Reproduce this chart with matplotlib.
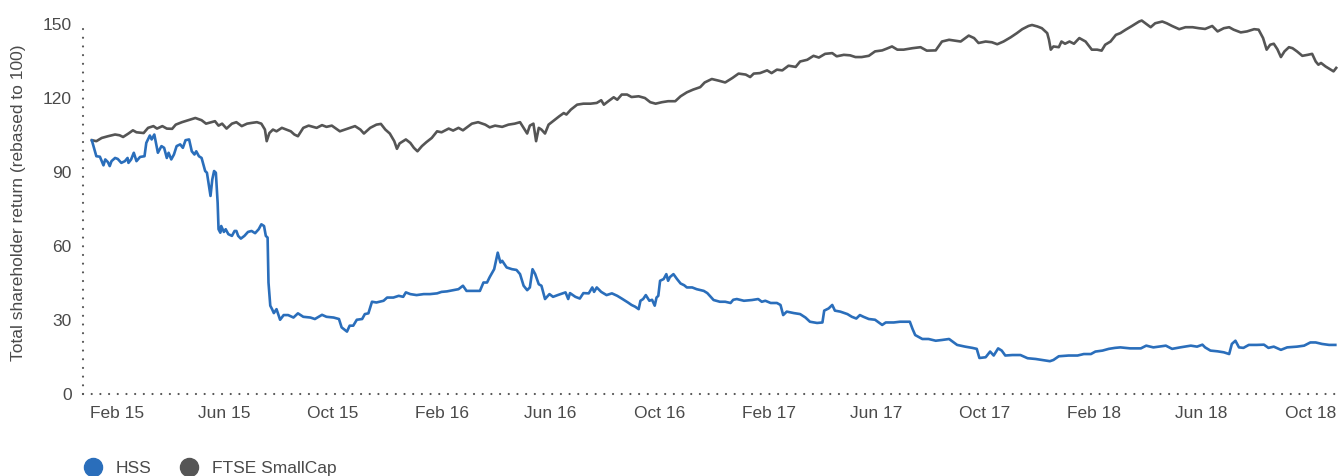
import pandas as pd
import matplotlib
matplotlib.use("Agg")
import matplotlib.pyplot as plt
import matplotlib.dates as mdates
from matplotlib.lines import Line2D

# days counted from 1 Feb 2015, values are TSR rebased to 100
base_date = pd.Timestamp("2015-02-01")

hss_days = [
    -28, -23, -19, -15, -13, -10, -8, -6, -2, 1,
    5, 9, 12, 13, 16, 19, 22, 26, 31, 33,
    37, 39, 42, 45, 46, 50, 53, 56, 58, 61,
    64, 67, 71, 74, 77, 81, 84, 87, 89, 92,
    95, 99, 101, 103, 105, 107, 109, 111, 113, 114,
    116, 117, 120, 122, 125, 129, 132, 134, 136, 139,
    143, 147, 151, 155, 159, 162, 165, 167, 169, 170,
    172, 174, 176, 179, 183, 187, 192, 198, 203, 209,
    217, 222, 230, 235, 243, 249, 252, 258, 261, 265,
    269, 275, 278, 282, 286, 291, 299, 303, 310, 316,
    321, 324, 329, 336, 344, 351, 359, 364, 370, 377,
    383, 388, 392, 400, 407, 411, 415, 418, 423, 427,
    430, 432, 437, 443, 448, 452, 456, 460, 463, 466,
    469, 473, 476, 480, 485, 489, 495, 503, 506, 508,
    514, 519, 523, 529, 533, 535, 538, 543, 549, 555,
    561, 566, 573, 577, 581, 585, 587, 590, 593, 597,
    600, 603, 605, 607, 609, 613, 616, 618, 620, 624,
    628, 632, 636, 639, 645, 650, 658, 662, 669, 676,
    682, 688, 691, 695, 703, 712, 719, 723, 727, 733,
    740, 744, 747, 751, 759, 766, 772, 777, 785, 791,
    793, 798, 802, 805, 811, 819, 824, 829, 833, 837,
    843, 850, 858, 862, 871, 878, 889, 892, 895, 903,
    910, 918, 925, 933, 942, 951, 959, 964, 967, 974,
    979, 983, 988, 992, 996, 1004, 1013, 1021, 1030, 1037,
    1046, 1050, 1056, 1067, 1077, 1084, 1092, 1097, 1105, 1112,
    1119, 1125, 1136, 1148, 1154, 1162, 1176, 1183, 1192, 1204,
    1211, 1217, 1220, 1226, 1234, 1241, 1247, 1250, 1254, 1258,
    1263, 1269, 1278, 1286, 1291, 1297, 1305, 1312, 1323, 1331,
    1338, 1344, 1351, 1359, 1366,
]
hss_tsr = [
    102.6, 96.2, 96.0, 92.5, 94.9, 93.8, 92.2, 94.2, 95.5, 95.1,
    93.5, 94.2, 95.5, 93.5, 94.9, 97.6, 94.2, 95.9, 96.2, 101.6,
    104.6, 103.0, 105.0, 99.6, 97.6, 100.3, 99.6, 95.5, 97.6, 94.9,
    96.9, 100.3, 101.0, 99.6, 102.7, 103.0, 98.2, 96.9, 98.2, 96.2,
    95.5, 90.2, 89.5, 84.8, 80.1, 86.8, 90.2, 89.5, 77.3, 66.6,
    65.2, 67.9, 65.5, 66.6, 64.6, 63.9, 65.9, 65.9, 63.9, 62.8,
    63.9, 65.5, 65.9, 65.0, 66.6, 68.6, 67.9, 63.9, 63.2, 45.0,
    35.6, 34.2, 32.6, 34.2, 29.9, 31.8, 31.8, 30.8, 32.5, 31.1,
    30.8, 30.2, 31.9, 31.1, 30.8, 30.2, 26.8, 25.1, 27.5, 27.5,
    29.9, 30.2, 32.2, 32.5, 37.2, 36.9, 37.6, 38.9, 38.9, 39.6,
    39.2, 41.0, 40.3, 39.9, 40.3, 40.3, 40.6, 41.2, 41.4, 41.9,
    42.3, 43.7, 41.6, 41.6, 41.6, 45.0, 45.0, 47.2, 50.4, 57.1,
    53.1, 53.8, 51.1, 50.4, 50.1, 48.4, 43.7, 41.9, 43.0, 50.4,
    48.4, 44.3, 43.7, 38.3, 40.3, 39.2, 40.0, 41.0, 38.3, 40.7,
    39.2, 38.5, 40.7, 40.6, 43.0, 41.2, 43.0, 41.2, 39.9, 40.6,
    39.6, 38.5, 36.9, 35.9, 35.2, 34.2, 37.6, 38.3, 39.9, 37.6,
    38.0, 35.6, 38.9, 39.6, 45.7, 46.4, 48.4, 45.7, 47.2, 48.4,
    46.4, 44.6, 43.9, 43.0, 43.0, 42.3, 41.6, 40.7, 37.9, 37.2,
    37.2, 36.7, 38.0, 38.3, 37.6, 37.9, 38.3, 37.2, 37.6, 36.7,
    36.7, 35.9, 31.8, 33.2, 32.6, 32.2, 30.8, 29.1, 28.6, 28.8,
    33.6, 34.5, 35.9, 33.6, 33.2, 32.2, 31.1, 30.4, 31.8, 31.1,
    30.2, 29.9, 27.8, 28.8, 28.8, 29.1, 29.1, 26.2, 23.7, 22.1,
    22.1, 21.4, 21.7, 22.1, 19.7, 19.0, 18.5, 18.1, 14.4, 14.7,
    17.0, 15.4, 18.3, 17.4, 15.4, 15.6, 15.6, 14.3, 14.0, 13.6,
    13.1, 13.6, 15.1, 15.4, 15.4, 16.0, 16.0, 17.0, 17.4, 18.1,
    18.5, 18.7, 18.3, 18.3, 19.4, 18.7, 19.4, 18.1, 18.7, 19.4,
    19.0, 19.8, 18.7, 17.4, 17.1, 16.7, 16.0, 20.1, 21.4, 18.7,
    18.5, 19.7, 19.7, 19.8, 18.5, 19.0, 17.7, 18.7, 19.0, 19.4,
    20.7, 20.7, 20.1, 19.7, 19.7,
]

ftse_days = [
    -28, -23, -17, -10, -2, 3, 7, 13, 18, 22,
    30, 35, 41, 45, 51, 56, 62, 66, 73, 80,
    88, 95, 100, 106, 110, 114, 118, 123, 129, 134,
    140, 146, 151, 157, 162, 166, 168, 171, 175, 179,
    185, 190, 195, 199, 203, 209, 215, 224, 230, 235,
    241, 250, 258, 267, 273, 277, 284, 291, 296, 301,
    306, 311, 314, 317, 324, 329, 333, 337, 342, 347,
    353, 359, 364, 372, 377, 383, 388, 398, 405, 413,
    418, 424, 432, 439, 446, 452, 456, 460, 463, 467,
    470, 473, 476, 480, 484, 489, 496, 501, 504, 509,
    516, 523, 531, 538, 543, 546, 551, 557, 561, 566,
    572, 577, 585, 592, 598, 604, 611, 618, 626, 632,
    639, 646, 654, 659, 667, 675, 682, 690, 697, 705,
    710, 714, 721, 729, 734, 740, 746, 753, 761, 766,
    774, 781, 787, 794, 802, 807, 815, 822, 828, 835,
    843, 850, 858, 863, 869, 875, 882, 892, 901, 908,
    918, 925, 933, 940, 946, 955, 961, 966, 974, 981,
    987, 994, 1002, 1009, 1015, 1022, 1026, 1032, 1037, 1043,
    1045, 1047, 1050, 1056, 1059, 1063, 1068, 1073, 1079, 1086,
    1093, 1099, 1104, 1108, 1114, 1120, 1125, 1131, 1138, 1146,
    1149, 1153, 1159, 1164, 1172, 1177, 1183, 1191, 1198, 1206,
    1213, 1220, 1228, 1234, 1241, 1247, 1252, 1260, 1267, 1275,
    1280, 1285, 1289, 1293, 1297, 1301, 1305, 1309, 1314, 1318,
    1323, 1329, 1335, 1340, 1344, 1347, 1350, 1355, 1361, 1364,
    1367,
]
ftse_tsr = [
    102.7, 102.3, 103.6, 104.3, 105.0, 104.7, 104.0, 105.4, 106.7, 105.9,
    105.6, 107.7, 108.4, 107.4, 108.4, 107.4, 107.3, 109.0, 110.0, 110.8,
    111.7, 110.8, 109.4, 110.0, 110.4, 108.6, 109.4, 107.4, 109.4, 110.0,
    108.4, 109.4, 109.7, 110.0, 109.4, 107.0, 102.3, 105.6, 107.0, 106.3,
    107.7, 107.0, 106.3, 105.0, 104.3, 107.7, 108.6, 107.7, 108.8, 108.1,
    108.6, 106.3, 107.3, 108.4, 107.0, 105.4, 107.7, 109.0, 109.3, 107.0,
    105.4, 102.3, 99.2, 101.4, 103.0, 101.6, 99.6, 98.2, 100.3, 101.9,
    103.6, 106.3, 105.9, 107.4, 106.6, 107.7, 106.7, 109.4, 110.0, 109.0,
    107.9, 108.6, 108.1, 109.0, 109.4, 110.0, 107.7, 105.4, 108.6, 109.4,
    102.3, 107.7, 107.0, 105.4, 109.0, 110.4, 112.4, 113.7, 113.1, 115.1,
    117.1, 117.5, 117.5, 117.8, 118.9, 117.1, 118.5, 120.1, 119.1, 121.2,
    121.2, 120.2, 120.5, 119.8, 118.1, 117.5, 118.1, 118.5, 118.5, 120.5,
    122.1, 123.2, 124.2, 126.1, 127.5, 126.8, 126.1, 127.9, 129.7, 129.3,
    128.3, 129.7, 129.9, 131.0, 129.9, 131.3, 131.0, 132.9, 132.4, 134.6,
    135.3, 136.9, 136.2, 137.7, 138.0, 136.7, 137.3, 137.1, 136.4, 136.4,
    136.9, 138.7, 139.1, 139.8, 140.7, 139.4, 139.4, 140.0, 140.4, 139.0,
    139.1, 142.7, 143.4, 143.0, 142.7, 145.1, 144.1, 142.1, 142.7, 142.4,
    141.6, 142.7, 144.4, 146.1, 147.7, 149.0, 149.4, 148.8, 148.1, 146.1,
    143.4, 139.4, 140.7, 140.4, 142.7, 141.8, 142.7, 141.8, 144.1, 142.7,
    139.4, 139.4, 139.0, 141.4, 142.7, 145.4, 146.1, 147.5, 149.0, 150.8,
    151.2, 150.1, 148.5, 150.1, 150.8, 150.1, 149.0, 147.7, 148.5, 148.5,
    148.1, 147.8, 149.0, 146.8, 148.1, 148.5, 147.5, 146.4, 146.8, 147.7,
    147.5, 144.1, 139.4, 141.4, 141.8, 139.6, 136.4, 138.7, 140.4, 140.0,
    138.7, 136.9, 137.3, 137.7, 134.6, 133.3, 134.0, 132.6, 131.3, 130.6,
    132.0,
]

series_names = ["HSS", "FTSE SmallCap"]
series_colors = ["#2a6ebb", "#555555"]
y_ticks = [0, 30, 60, 90, 120, 150]
x_ticks = pd.date_range("2015-02-01", "2018-10-01", freq="4MS")
x_range = (pd.Timestamp("2014-12-25"), pd.Timestamp("2018-11-01"))
y_label = "Total shareholder return (rebased to 100)"

text_col = "#4a4a4a"
dots = (0, (0.01, 3.9))

plt.rcParams['font.family'] = ['Liberation Sans', 'DejaVu Sans']
plt.rcParams['font.size'] = 12.5

fig = plt.figure(figsize=(13.38, 4.76), dpi=100)
ax = fig.add_axes([0.062, 0.1733, 0.938, 0.7773])

hss_dates = base_date + pd.to_timedelta(hss_days, unit="D")
ftse_dates = base_date + pd.to_timedelta(ftse_days, unit="D")

ax.plot(ftse_dates, ftse_tsr, color=series_colors[1], lw=1.9, clip_on=False)
ax.plot(hss_dates, hss_tsr, color=series_colors[0], lw=1.9, clip_on=False)

ax.set_xlim(*x_range)
ax.set_ylim(0, 150)
ax.set_yticks(y_ticks)
ax.set_xticks(x_ticks)
ax.xaxis.set_major_formatter(mdates.DateFormatter("%b %y"))

for side in ["top", "right"]:
    ax.spines[side].set_visible(False)
for side in ["left", "bottom"]:
    ax.spines[side].set_linestyle(dots)
    ax.spines[side].set_linewidth(1.6)
    ax.spines[side].set_capstyle("round")
    ax.spines[side].set_color("#555555")

ax.tick_params(length=0, labelsize=12.5, colors=text_col)
ax.tick_params(axis="y", pad=8)
ax.tick_params(axis="x", pad=9)

fig.text(0.0135, 1 - 203 / 476, y_label, rotation=90, ha="center",
         va="center", fontsize=12.5, color=text_col)

handles = [Line2D([0], [0], marker="o", ls="none", markersize=13, color=c)
           for c in series_colors]
fig.legend(handles, series_names, loc="center left",
           bbox_to_anchor=(0.063, 0.0168), ncol=2, frameon=False,
           borderpad=0, borderaxespad=0, handlelength=1.0,
           handletextpad=0.82, columnspacing=1.64, fontsize=12.5,
           labelcolor=text_col)

fig.savefig("out.png", dpi=100)
